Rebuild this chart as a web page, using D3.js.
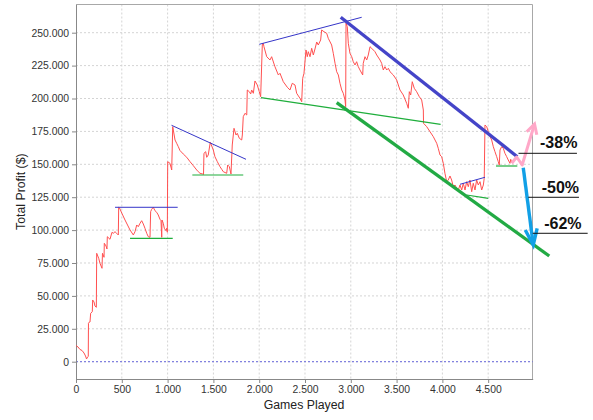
<!DOCTYPE html>
<html>
<head>
<meta charset="utf-8">
<script src="https://cdn.jsdelivr.net/npm/d3@7"></script>
<style>
  body { margin: 0; background: #fff; }
  svg { display: block; font-family: "Liberation Sans", Arial, sans-serif; }
  .tick text { font-size: 10.4px; fill: #333; }
  .axis-title { font-size: 12.3px; fill: #222; }
  .pct { font-size: 16px; font-weight: bold; fill: #111; }
</style>
</head>
<body>
<svg id="chart" width="593" height="420"></svg>
<script>

/////////////////////
// Data
/////////////////////

var games = [0, 22, 44, 66, 87, 104, 115, 126, 134, 136, 147, 153, 160, 178, 182, 197, 207, 222, 226, 248,
    262, 284, 289, 306, 309, 328, 338, 342, 371, 393, 407, 426, 444, 462, 466, 475, 502, 535, 568, 590,
    626, 644, 663, 680, 699, 717, 735, 753, 772, 789, 808, 815, 826, 844, 862, 881, 898, 917, 928, 936,
    939, 953, 964, 983, 990, 997, 1001, 1026, 1045, 1056, 1081, 1099, 1117, 1135, 1171, 1209, 1245, 1281, 1318, 1335,
    1354, 1383, 1392, 1397, 1416, 1427, 1444, 1466, 1499, 1517, 1543, 1572, 1591, 1608, 1645, 1656, 1674, 1692, 1706, 1725,
    1747, 1761, 1783, 1809, 1816, 1826, 1845, 1864, 1870, 1892, 1907, 1918, 1936, 1954, 1979, 2001, 2016, 2034, 2045, 2052,
    2082, 2118, 2136, 2172, 2209, 2227, 2263, 2307, 2336, 2361, 2391, 2409, 2445, 2464, 2475, 2489, 2511, 2525, 2536, 2555,
    2573, 2591, 2609, 2628, 2645, 2671, 2682, 2707, 2737, 2754, 2791, 2809, 2828, 2846, 2864, 2882, 2901, 2918, 2937, 2944,
    2948, 2962, 2973, 2991, 3010, 3027, 3046, 3064, 3082, 3100, 3130, 3136, 3155, 3174, 3191, 3210, 3228, 3246, 3264, 3283,
    3319, 3337, 3355, 3373, 3392, 3410, 3428, 3464, 3501, 3519, 3537, 3573, 3610, 3628, 3639, 3654, 3671, 3693, 3719, 3748,
    3774, 3792, 3794, 3829, 3865, 3901, 3938, 3955, 3974, 3992, 4010, 4028, 4047, 4064, 4083, 4101, 4119, 4138, 4156, 4174,
    4192, 4211, 4228, 4247, 4265, 4283, 4301, 4320, 4337, 4356, 4374, 4392, 4411, 4429, 4447, 4457, 4465, 4484, 4501, 4520,
    4538, 4556, 4574, 4593, 4610, 4621, 4629, 4647, 4665, 4683, 4702, 4719, 4738, 4746, 4757];

var profit = [12300, 11170, 9270, 8510, 6610, 4330, 2050, 3570, 3950, 29180, 30170, 30170, 36780, 37995, 46890, 45370, 42330, 41340, 82370, 78570,
    74770, 70970, 82370, 79330, 89970, 87920, 85640, 94990, 93010, 98330, 97570, 98790, 97570, 96280, 117330, 116800, 112620, 107680, 103120, 100080,
    96280, 98790, 103880, 102590, 105170, 107150, 104640, 101370, 97570, 94990, 94530, 113990, 115810, 117330, 114750, 113530, 111480, 108210, 107150, 94530,
    107680, 105170, 101370, 99550, 101370, 98330, 151980, 150760, 145670, 178580, 168470, 165960, 163380, 160490, 157830, 155320, 151980, 148940, 145670, 144380,
    143160, 142630, 142250, 158360, 159580, 155320, 157070, 166720, 160870, 155780, 151980, 148180, 146200, 144380, 143160, 149470, 148180, 142630, 164670, 177360,
    172270, 173560, 169760, 168470, 172270, 186180, 188760, 187470, 206470, 205170, 203430, 206470, 203960, 213310, 210270, 205170, 201370, 240660, 241950, 239370,
    231770, 229260, 231770, 224170, 217870, 219140, 212770, 208520, 206470, 211560, 210270, 203960, 200160, 197570, 215360, 219160, 236860, 231770, 235570, 231770,
    238150, 233060, 237620, 242940, 240660, 244460, 252060, 250770, 249550, 245750, 240660, 234350, 226750, 220370, 217870, 211560, 206470, 203960, 198870, 193780,
    257150, 254570, 241950, 234350, 231770, 227970, 225460, 227970, 224170, 221670, 217870, 226750, 231770, 229260, 233060, 239370, 238150, 236860, 235570, 233060,
    229260, 226750, 221670, 224170, 221670, 222960, 220370, 217870, 214070, 210270, 206470, 202670, 196360, 192560, 205170, 202670, 212770, 207760, 205170, 201370,
    198870, 191270, 181160, 178580, 174780, 170980, 165960, 162160, 157070, 155780, 150760, 143160, 136780, 138070, 141110, 138070, 132980, 134270, 131760, 130470,
    134270, 130470, 135570, 130470, 136780, 132980, 138070, 129180, 135570, 130470, 138070, 134270, 136780, 130470, 134270, 139360, 179870, 178580, 174780, 170980,
    168470, 163380, 159580, 155780, 151980, 149470, 160870, 163380, 162160, 158360, 155780, 153270, 150760, 153800, 151220];

var xTicks = [0, 500, 1000, 1500, 2000, 2500, 3000, 3500, 4000, 4500];
var yTicks = [0, 25000, 50000, 75000, 100000, 125000, 150000, 175000, 200000, 225000, 250000];

// trend lines drawn on the chart: [game1, profit1, game2, profit2]
var thinBlue = [[426, 117330, 1110, 117330], [1043, 179640, 1856, 153800],
                [2001, 241190, 3119, 261710], [4192, 134800, 4465, 140120]];
var thinGreen = [[590, 93770, 1056, 93770], [1270, 141870, 1826, 141870],
                 [2020, 200610, 3981, 180400], [4265, 126680, 4501, 124170],
                 [4585, 148710, 4818, 148710]];
var resistance = [2890, 261710, 4818, 155780];
var support = [2846, 196810, 5167, 80320];

// projections
var pinkPath = [[4757, 150760], [4811, 155550], [4871, 149470], [5006, 180630]];
var cyanPath = [[4883, 147420], [4992, 88680]];

var pctLabels = ["-38%", "-50%", "-62%"];
var pctAt = [[5066, 162010], [5084, 128420], [5112, 100610]];
var pctRules = [[4831, 5469, 158360], [4938, 5491, 124930], [4986, 5586, 97570]];

/////////////////////
// Scales
/////////////////////

var svg = d3.select("#chart");

var x = d3.scaleLinear().domain([0, 4986]).range([76, 532.7]);
var y = d3.scaleLinear().domain([-13150, 271430]).range([379, 4.5]);

var loc = d3.formatLocale({decimal: ",", thousands: ".", grouping: [3], currency: ["$", ""]});
var fmt = loc.format(",d");

// Grid

svg.append("g").selectAll("line")
    .data(xTicks.slice(1))
  .enter().append("line")
    .attr("x1", d => x(d)).attr("x2", d => x(d))
    .attr("y1", 4.5).attr("y2", 379)
    .style("stroke", "#d4d4d4").style("stroke-dasharray", "2,2");

svg.append("g").selectAll("line")
    .data(yTicks)
  .enter().append("line")
    .attr("x1", 76).attr("x2", 532.7)
    .attr("y1", d => y(d)).attr("y2", d => y(d))
    .style("stroke", "#d4d4d4").style("stroke-dasharray", "2,2");

// plot outline (top / right)
svg.append("path")
    .attr("d", "M76,4.5H532.5V379")
    .style("fill", "none").style("stroke", "#a8a8a8");

// zero line
svg.append("line")
    .attr("x1", 76).attr("x2", 532.7)
    .attr("y1", y(0)).attr("y2", y(0))
    .style("stroke", "#6d6de0").style("stroke-dasharray", "2,2");

/////////////////////
// Axes
/////////////////////

var xAxis = svg.append("g")
    .attr("transform", "translate(0,379)")
    .call(d3.axisBottom(x).tickValues(xTicks).tickFormat(fmt).tickSize(4).tickPadding(3).tickSizeOuter(0));
var yAxis = svg.append("g")
    .attr("transform", "translate(76,0)")
    .call(d3.axisLeft(y).tickValues(yTicks).tickFormat(fmt).tickSize(4).tickPadding(3).tickSizeOuter(0));

[xAxis, yAxis].forEach(function(a) {
    a.select(".domain").style("stroke", "#888");
    a.selectAll(".tick line").style("stroke", "#888");
    a.attr("font-family", null).attr("font-size", null);
});

svg.append("text")
    .attr("class", "axis-title")
    .attr("text-anchor", "middle")
    .attr("x", 304).attr("y", 409)
    .text("Games Played");

svg.append("text")
    .attr("class", "axis-title")
    .attr("text-anchor", "middle")
    .attr("transform", "translate(24.5,191.7) rotate(-90)")
    .text("Total Profit ($)");

/////////////////////
// Profit line
/////////////////////

var series = games.map((g, i) => [g, profit[i]]);

var line = d3.line()
    .x(d => x(d[0]))
    .y(d => y(d[1]));

svg.append("path")
    .datum(series)
    .attr("d", line)
    .style("fill", "none")
    .style("stroke", "#ff5050")
    .style("stroke-width", 1);

/////////////////////
// Annotations
/////////////////////

function seg(sel, data, color, width) {
    sel.append("g").selectAll("line")
        .data(data)
      .enter().append("line")
        .attr("x1", d => x(d[0])).attr("y1", d => y(d[1]))
        .attr("x2", d => x(d[2])).attr("y2", d => y(d[3]))
        .style("stroke", color)
        .style("stroke-width", width);
}

seg(svg, thinBlue, "#3535c8", 1);
seg(svg, thinGreen, "#1fae3c", 1.2);
seg(svg, [resistance], "#4444c8", 3.3);
seg(svg, [support], "#22aa44", 3.3);

function arrow(pts, color, width, headLen, headAng) {
    var p = pts.map(d => [x(d[0]), y(d[1])]);
    svg.append("path")
        .attr("d", d3.line()(p))
        .style("fill", "none").style("stroke", color)
        .style("stroke-width", width).style("stroke-linejoin", "round");
    var a = p[p.length - 2], b = p[p.length - 1];
    var ang = Math.atan2(a[1] - b[1], a[0] - b[0]);
    var h1 = [b[0] + headLen * Math.cos(ang + headAng), b[1] + headLen * Math.sin(ang + headAng)];
    var h2 = [b[0] + headLen * Math.cos(ang - headAng), b[1] + headLen * Math.sin(ang - headAng)];
    svg.append("path")
        .attr("d", d3.line()([h1, b, h2]))
        .style("fill", "none").style("stroke", color)
        .style("stroke-width", width).style("stroke-linejoin", "miter");
}

arrow(pinkPath, "#ffa8c8", 3, 11, 0.5);
arrow(cyanPath, "#12a0e6", 3.4, 17, 0.36);

svg.append("g").selectAll("line")
    .data(pctRules)
  .enter().append("line")
    .attr("x1", d => x(d[0])).attr("x2", d => x(d[1]))
    .attr("y1", d => y(d[2])).attr("y2", d => y(d[2]))
    .style("stroke", "#111").style("stroke-width", 1);

svg.append("g").selectAll("text")
    .data(pctLabels)
  .enter().append("text")
    .attr("class", "pct")
    .attr("x", (d, i) => x(pctAt[i][0]))
    .attr("y", (d, i) => y(pctAt[i][1]))
    .text(d => d);

</script>
</body>
</html>
